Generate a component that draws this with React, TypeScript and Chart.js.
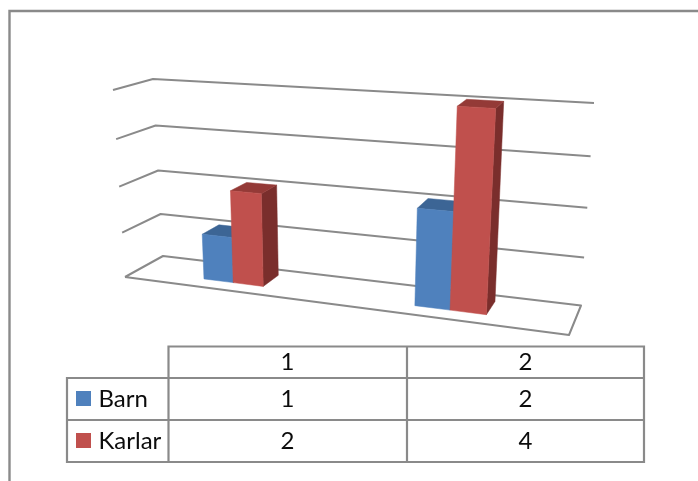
import React, { useEffect, useRef } from "react";
import { Chart, registerables } from "chart.js";

Chart.register(...registerables);

const categories = ["1", "2"];
const barn = [1, 2];
const karlar = [2, 4];
const seriesNames = ["Barn", "Karlar"];
const frontColors = ["#4f81bd", "#c0504d"];
const topColors = ["#3c6595", "#943a37"];
const sideColors = ["#335680", "#7a2e2c"];
const lineColor = "#8a8a8a";
const fontFamily = "Lato, 'Open Sans', sans-serif";

type Pt = [number, number];

// Camera: floor and ceiling planes of the 3-D box (front-left, front-right, back-right, back-left)
const floorQuad: Pt[] = [[125, 277], [569, 335], [581, 305.5], [163, 256]];
const ceilingQuad: Pt[] = [[113, 90], [584, 119], [594, 103], [153, 79]];
const verticalForeshortening = 0.068;

function homography(q: Pt[]) {
  const [[x0, y0], [x1, y1], [x2, y2], [x3, y3]] = q;
  const dx1 = x1 - x2, dx2 = x3 - x2, sx = x0 - x1 + x2 - x3;
  const dy1 = y1 - y2, dy2 = y3 - y2, sy = y0 - y1 + y2 - y3;
  const den = dx1 * dy2 - dx2 * dy1;
  const g = (sx * dy2 - dx2 * sy) / den;
  const h = (dx1 * sy - sx * dy1) / den;
  const a = x1 - x0 + g * x1, b = x3 - x0 + h * x3;
  const d = y1 - y0 + g * y1, e = y3 - y0 + h * y3;
  return (u: number, w: number): Pt => {
    const W = g * u + h * w + 1;
    return [(a * u + b * w + x0) / W, (d * u + e * w + y0) / W];
  };
}

const floorMap = homography(floorQuad);
const ceilingMap = homography(ceilingQuad);

function project(u: number, v: number, w: number): Pt {
  const f = floorMap(u, w);
  const fL = floorMap(0, w);
  const fR = floorMap(1, w);
  const s = (f[0] - fL[0]) / (fR[0] - fL[0]);
  const cL = ceilingMap(0, w);
  const cR = ceilingMap(1, w);
  const c: Pt = [cL[0] + (cR[0] - cL[0]) * s, cL[1] + (cR[1] - cL[1]) * s];
  const t = v - verticalForeshortening * v * (1 - v);
  return [f[0] + (c[0] - f[0]) * t, f[1] + (c[1] - f[1]) * t];
}

const depthFront = 0.3;
const depthBack = 0.78;
const barShift = 0.005;

function poly(ctx: CanvasRenderingContext2D, pts: Pt[], fill?: string) {
  ctx.beginPath();
  pts.forEach((p, i) => (i ? ctx.lineTo(p[0], p[1]) : ctx.moveTo(p[0], p[1])));
  if (fill) {
    ctx.closePath();
    ctx.fillStyle = fill;
    ctx.fill();
    ctx.strokeStyle = fill;
    ctx.lineWidth = 0.5;
    ctx.stroke();
  } else {
    ctx.stroke();
  }
}

const scene = {
  id: "scene3d",
  beforeDatasetsDraw(chart: any) {
    const { ctx, chartArea, scales } = chart;
    const yScale = scales.y;
    const bottom = chartArea.bottom;
    const uOf = (x: number) => (x - chartArea.left) / chartArea.width + barShift;
    const vOf = (y: number) => (bottom - y) / chartArea.height;

    ctx.save();
    // frame of the chart
    ctx.strokeStyle = "#8a8a8a";
    ctx.lineWidth = 2.4;
    ctx.beginPath();
    ctx.moveTo(9.5, 481);
    ctx.lineTo(9.5, 11);
    ctx.lineTo(698, 11);
    ctx.stroke();

    // walls and floor, from the value scale's ticks
    ctx.strokeStyle = lineColor;
    ctx.lineWidth = 2;
    ctx.lineJoin = "round";
    for (const tick of yScale.ticks) {
      const v = vOf(yScale.getPixelForValue(tick.value));
      const path: Pt[] = [project(0, v, 0), project(0, v, 1), project(1, v, 1)];
      if (tick.value === yScale.min) path.push(project(1, v, 0), project(0, v, 0));
      poly(ctx, path);
    }

    // bars, from the elements Chart.js laid out
    const count = chart.data.labels.length;
    for (let c = 0; c < count; c++) {
      chart.data.datasets.forEach((_: any, ds: number) => {
        const el = chart.getDatasetMeta(ds).data[c];
        const u0 = uOf(el.x - el.width / 2);
        const u1 = uOf(el.x + el.width / 2);
        const v = vOf(el.y);
        const f = depthFront, b = depthBack;
        poly(ctx, [project(u1, 0, f), project(u1, 0, b), project(u1, v, b), project(u1, v, f)], sideColors[ds]);
        poly(ctx, [project(u0, v, f), project(u1, v, f), project(u1, v, b), project(u0, v, b)], topColors[ds]);
        poly(ctx, [project(u0, 0, f), project(u1, 0, f), project(u1, v, f), project(u0, v, f)], frontColors[ds]);
      });
    }

    // data table
    const colX = [67, 168.5, 407, 644];
    const rowY = [346.5, 378, 420, 462];
    ctx.strokeStyle = lineColor;
    ctx.lineWidth = 2.2;
    ctx.lineJoin = "miter";
    ctx.beginPath();
    ctx.moveTo(colX[1], rowY[1]);
    ctx.lineTo(colX[1], rowY[0]);
    ctx.lineTo(colX[3], rowY[0]);
    ctx.lineTo(colX[3], rowY[3]);
    ctx.lineTo(colX[0], rowY[3]);
    ctx.lineTo(colX[0], rowY[1]);
    ctx.lineTo(colX[3], rowY[1]);
    ctx.moveTo(colX[0], rowY[2]);
    ctx.lineTo(colX[3], rowY[2]);
    ctx.moveTo(colX[1], rowY[1]);
    ctx.lineTo(colX[1], rowY[3]);
    ctx.moveTo(colX[2], rowY[0]);
    ctx.lineTo(colX[2], rowY[3]);
    ctx.stroke();

    ctx.fillStyle = "#0c0c0c";
    ctx.font = `24px ${fontFamily}`;
    ctx.textBaseline = "middle";
    ctx.textAlign = "center";
    const colCenter = [287.5, 525.5];
    categories.forEach((label, i) => ctx.fillText(label, colCenter[i], 362));
    chart.data.datasets.forEach((set: any, ds: number) => {
      const rowMid = (rowY[ds + 1] + rowY[ds + 2]) / 2;
      set.data.forEach((val: number, i: number) => {
        ctx.fillStyle = "#0c0c0c";
        ctx.textAlign = "center";
        ctx.fillText(String(val), colCenter[i], rowMid);
      });
      ctx.fillStyle = frontColors[ds];
      ctx.fillRect(76, rowMid - 8, 15, 15);
      ctx.fillStyle = "#0c0c0c";
      ctx.textAlign = "left";
      ctx.fillText(set.label, 98.5, rowMid);
    });
    ctx.restore();
    return false;
  },
};

export default function App() {
  const ref = useRef<HTMLCanvasElement>(null);
  useEffect(() => {
    const chart = new Chart(ref.current!, {
      type: "bar",
      data: {
        labels: categories,
        datasets: [
          { label: seriesNames[0], data: barn, backgroundColor: frontColors[0] },
          { label: seriesNames[1], data: karlar, backgroundColor: frontColors[1] },
        ],
      },
      options: {
        animation: false,
        responsive: false,
        devicePixelRatio: 1,
        layout: { padding: 0 },
        datasets: { bar: { categoryPercentage: 0.3, barPercentage: 1 } },
        plugins: { legend: { display: false }, tooltip: { enabled: false }, title: { display: false } },
        scales: {
          x: { display: false },
          y: { display: false, min: 0, max: 4, ticks: { stepSize: 1 } },
        },
      },
      plugins: [scene],
    } as any);
    return () => chart.destroy();
  }, []);
  return (
    <canvas
      ref={ref}
      width={698}
      height={481}
      style={{ position: "absolute", left: 0, top: 0, display: "block", background: "#fff" }}
    />
  );
}
